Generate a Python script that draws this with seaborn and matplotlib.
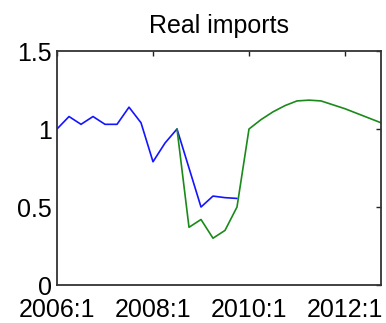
import matplotlib
matplotlib.use("Agg")
import matplotlib.pyplot as plt
import seaborn as sns
import numpy as np
import pandas as pd

sns.set_style("white")
plt.rcParams['font.family'] = ['Liberation Sans', 'DejaVu Sans']
plt.rcParams['text.color'] = 'black'

# Quarterly index: 0 = 2006:1
actual_q = list(range(0, 16))
actual_vals = [1.00, 1.08, 1.03, 1.08, 1.03, 1.03, 1.14, 1.04, 0.79, 0.91,
               1.00, 0.75, 0.50, 0.57, 0.56, 0.555]

model_q = list(range(10, 28))
model_vals = [1.00, 0.37, 0.42, 0.30, 0.35, 0.50, 1.00, 1.06, 1.11, 1.15,
              1.18, 1.185, 1.18, 1.155, 1.13, 1.10, 1.07, 1.04]

xtick_pos = [0, 8, 16, 24]
xtick_labels = ["2006:1", "2008:1", "2010:1", "2012:1"]
ytick_pos = [0, 0.5, 1, 1.5]
ytick_labels = ["0", "0.5", "1", "1.5"]

fig = plt.figure(figsize=(3.86, 3.23), dpi=100)
ax = fig.add_axes([0.1477, 0.1176, 0.8393, 0.7245])

sns.lineplot(x=actual_q, y=actual_vals, ax=ax, color="#1414ff", linewidth=1.2)
sns.lineplot(x=model_q, y=model_vals, ax=ax, color="#1a8a1a", linewidth=1.2)

ax.set_xlim(0, 27)
ax.set_ylim(0, 1.5)
ax.set_xticks(xtick_pos)
ax.set_xticklabels(xtick_labels)
ax.set_yticks(ytick_pos)
ax.set_yticklabels(ytick_labels)
ax.tick_params(direction="in", length=3.5, width=1.0, labelsize=18,
               top=True, right=True, colors="#222222", labelcolor="black")
ax.tick_params(axis="x", pad=9.5)
ax.tick_params(axis="y", pad=3.6)
for s in ax.spines.values():
    s.set_visible(True)
    s.set_color("#333333")
    s.set_linewidth(1.3)
ax.set_xlabel("")
ax.set_ylabel("")
ax.set_title("Real imports", fontsize=18, pad=13, color="black")

fig.savefig("out.png", dpi=100)
